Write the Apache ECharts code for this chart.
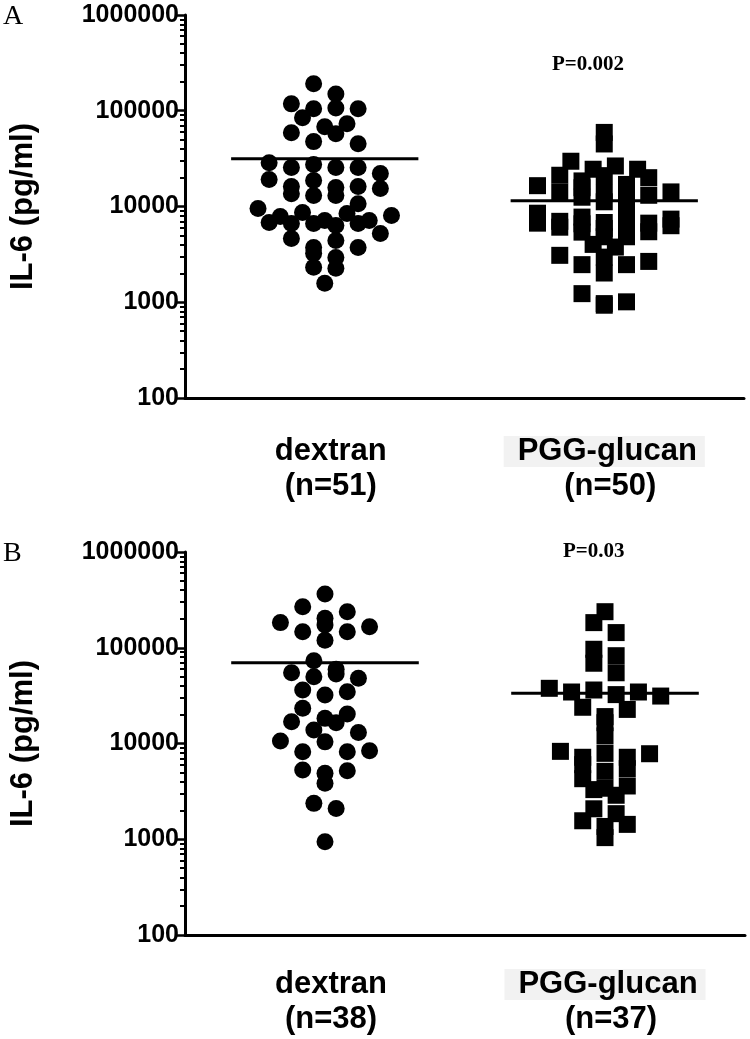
<!DOCTYPE html>
<html><head><meta charset="utf-8">
<script src="https://cdn.jsdelivr.net/npm/echarts@6/dist/echarts.min.js"></script>
<style>html,body{margin:0;padding:0;background:#fff}#c{width:750px;height:1039px}</style>
</head><body><div id="c"></div>
<script>
// ---------- data ----------
const categories = ['dextran', 'PGG-glucan'];
const groupSizesA = ['(n=51)', '(n=50)'];
const groupSizesB = ['(n=38)', '(n=37)'];
const yTickValues = [100, 1000, 10000, 100000, 1000000];
const yMinorTicks = [200,300,400,500,600,700,800,900,2000,3000,4000,5000,6000,7000,8000,9000,
  20000,30000,40000,50000,60000,70000,80000,90000,200000,300000,400000,500000,600000,700000,800000,900000];
const panelLabels = ['A', 'B'];
const pValues = ['P=0.002', 'P=0.03'];

const dextranA = [191000,150000,118000,105000,105000,107000,84500,73300,68100,59000,57600,47600,45300,
  28700,27400,25500,25500,25500,22100,19100,18700,16200,16200,15800,15400,13600,13000,13000,10700,
  9530,8660,8450,8060,7870,7150,7150,6810,6650,6650,6650,6340,5230,4640,4420,3740,3740,3240,2940,2320,2260,1580];
const pggA = [59400,45000,29700,15700,26500,21000,17000,14100,24500,20000,16500,11200,21200,13100,
  24500,18500,14200,14000,14900,12500,11200,7680,7000,6390,7380,6300,5450,6810,4830,6700,3770,
  7750,6600,4020,8510,6080,5400,4830,6700,5900,3090,2670,2470,2020,2470,2960,1010,931,968,1230];
const dextranB = [364000,238000,268000,183000,166000,147000,120000,147000,173000,203000,73300,53200,48000,
  59600,49900,54800,34700,32100,36200,23300,18300,16500,16900,20300,13000,10400,8210,8210,8410,10600,
  13800,5200,4880,5280,3840,2370,2100,942];
const pggB = [238000,183000,144000,82600,96400,68900,54800,37700,36200,34500,22700,32400,16500,31300,
  19100,34500,23900,12000,7890,7180,7180,7820,5120,8280,6010,5460,4290,3300,3410,3600,2880,2080,1850,
  1360,1430,1560,1040];
const centerLines = [[31600, 11500], [69800, 33400]];

// ---------- layout ----------
const GRIDS = [
  {left: 166, top: 15, width: 578, height: 383},
  {left: 167, top: 552, width: 578, height: 383}
];
const SYM = 17;

// row-binned dot-plot layout (offsets in x-axis units) computed from the values
function swarm(values, g, rowH, spacing, maxN) {
  const order = values.map((v, i) => i).sort((a, b) => values[b] - values[a]);
  const ys = values.map(v => g.height * (6 - Math.log10(v)) / 4);
  const out = new Array(values.length).fill(0);
  let row = [];
  const flush = () => {
    const n = row.length;
    const slots = [];
    for (let j = 0; j < n; j += 2) slots.push(j);
    for (let j = 1; j < n; j += 2) slots.push(j);
    row.forEach((idx, q) => { out[idx] = (slots[q] - (n - 1) / 2) * spacing / (g.width / 2); });
    row = [];
  };
  order.forEach(i => {
    if (row.length && (ys[i] - ys[row[0]] >= rowH || row.length >= maxN)) flush();
    row.push(i);
  });
  flush();
  return out;
}
function pts(values, center, g, rowH) {
  const off = swarm(values, g, rowH, 23, 7);
  return values.map((v, i) => [center + off[i], v]);
}

const chart = echarts.init(document.getElementById('c'), null, {renderer: 'canvas'});
const black = '#000';
const sans = 'Liberation Sans, Arial, sans-serif';
const serif = 'Liberation Serif, Times New Roman, serif';

function xAxes(gi, sizes, margin) {
  const st = {fontFamily: sans, fontWeight: 'bold', fontSize: 31, color: black, lineHeight: 35, padding: [0, 0, 0, 12]};
  return [
    {
      type: 'category', gridIndex: gi, position: 'bottom', data: categories,
      axisLine: {lineStyle: {color: black, width: 3}},
      axisTick: {alignWithLabel: true, length: 10, lineStyle: {color: black, width: 2.5}},
      axisLabel: {
        margin: margin, interval: 0,
        formatter: (val, idx) => (idx === 1 ? '{g|' + val + '}' : '{a|' + val + '}') + '\n{b|' + sizes[idx] + '}',
        rich: {a: st, b: st, g: Object.assign({}, st, {backgroundColor: '#f2f2f2', padding: [0, 8, 0, 14]})}
      },
      splitLine: {show: false}
    },
    {type: 'value', gridIndex: gi, position: 'bottom', min: 0, max: 2, show: false}
  ];
}
function yAxes(gi) {
  return [
    {
      type: 'log', logBase: 10, gridIndex: gi, position: 'left', min: 100, max: 1000000,
      name: 'IL-6 (pg/ml)', nameLocation: 'middle', nameGap: 146, nameRotate: 90,
      nameTextStyle: {fontFamily: sans, fontWeight: 'bold', fontSize: 31, color: black},
      axisLine: {show: true, lineStyle: {color: black, width: 3}},
      axisTick: {show: true, length: 8, customValues: yTickValues, lineStyle: {color: black, width: 2.5}},
      axisLabel: {customValues: yTickValues, margin: 6, fontFamily: sans, fontWeight: 'bold', fontSize: 25,
        color: black, formatter: v => String(Math.round(v))},
      splitLine: {show: false}
    },
    {
      type: 'log', logBase: 10, gridIndex: gi, position: 'left', min: 100, max: 1000000,
      axisLine: {show: false},
      axisTick: {show: true, length: 5, customValues: yMinorTicks, lineStyle: {color: black, width: 2}},
      axisLabel: {show: false}, splitLine: {show: false}
    }
  ];
}

const datasets = [[dextranA, pggA], [dextranB, pggB]];
const series = [];
const HW = 0.335;
[0, 1].forEach(gi => {
  const xv = gi * 2 + 1, ym = gi * 2;
  const [d, p] = datasets[gi];
  series.push({type: 'scatter', xAxisIndex: xv, yAxisIndex: ym, symbol: 'circle', symbolSize: SYM,
    itemStyle: {color: black, opacity: 1}, data: pts(d, 0.5, GRIDS[gi], 12), silent: true});
  series.push({type: 'scatter', xAxisIndex: xv, yAxisIndex: ym, symbol: 'rect', symbolSize: SYM,
    itemStyle: {color: black, opacity: 1}, data: pts(p, 1.5, GRIDS[gi], 10), silent: true});
  [0.5, 1.5].forEach((c, k) => {
    series.push({type: 'line', xAxisIndex: xv, yAxisIndex: ym, symbol: 'none', z: 5,
      lineStyle: {color: black, width: 3}, data: [[c - HW, centerLines[gi][k]], [c + HW, centerLines[gi][k]]]});
  });
});

const option = {
  backgroundColor: '#fff',
  animation: false,
  grid: GRIDS.map(g => Object.assign({containLabel: false}, g)),
  xAxis: [...xAxes(0, groupSizesA, 36), ...xAxes(1, groupSizesB, 32)],
  yAxis: [...yAxes(0), ...yAxes(1)],
  series: series,
  graphic: [
    {type: 'text', left: 3, top: 3, style: {text: panelLabels[0], font: '28px ' + serif, fill: black}},
    {type: 'text', left: 3, top: 540, style: {text: panelLabels[1], font: '28px ' + serif, fill: black}},
    {type: 'text', left: 552, top: 54, style: {text: pValues[0], font: 'bold 21px ' + serif, fill: black}},
    {type: 'text', left: 563, top: 541, style: {text: pValues[1], font: 'bold 21px ' + serif, fill: black}}
  ]
};
chart.setOption(option);
</script></body></html>
